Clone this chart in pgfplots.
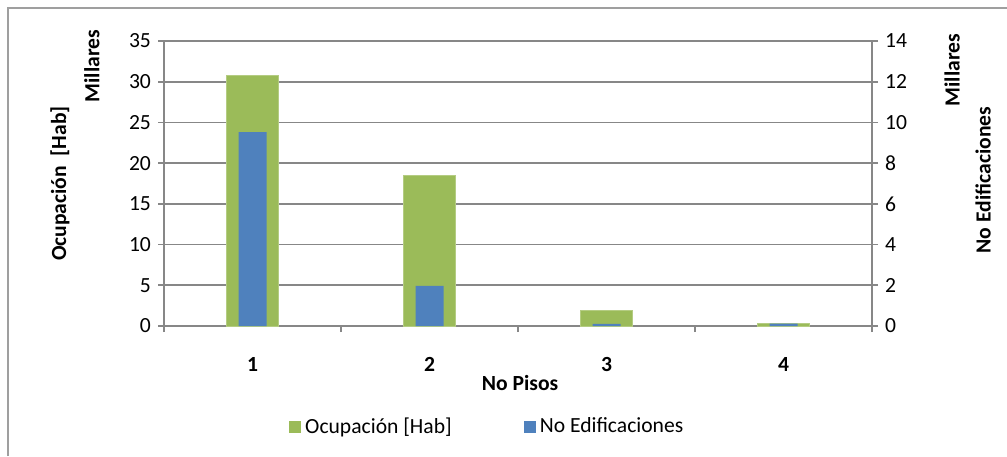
\documentclass[border=0pt]{standalone}
\usepackage{fontspec}
\setmainfont{Carlito}
\usepackage{pgfplots}
\pgfplotsset{compat=1.18}
\definecolor{grn}{HTML}{9BBB59}
\definecolor{blu}{HTML}{4F81BD}
\definecolor{axgray}{HTML}{878787}
\newcommand{\chartfont}{\fontsize{10.8}{12.5}\selectfont}

\begin{document}
\begin{tikzpicture}
\useasboundingbox (0,0) rectangle (503.5pt,228pt);
% chart frame (only left and top edges are visible)
\draw[axgray!80, line width=0.6pt] (4pt,0) -- (4pt,224pt) -- (503.5pt,224pt);

\pgfplotsset{every axis/.append style={
  scale only axis, width=354pt, height=142.5pt,
  at={(82pt,65pt)}, anchor=south west,
  xmin=0.5, xmax=4.5, clip=false,
  font=\chartfont,
  /pgf/number format/assume math mode=true,
  axis line style={axgray, line width=0.8pt},
  tick style={axgray, line width=0.8pt},
  tick align=outside, major tick length=3pt, minor tick length=3pt,
  ybar, bar shift=0pt,
}}

\begin{axis}[
  axis x line*=bottom, axis y line*=left,
  ymin=0, ymax=35, ytick={0,5,...,35},
  ymajorgrids, grid style={axgray, line width=0.8pt},
  xtick={1,2,3,4}, major x tick style={draw=none},
  minor xtick={0.5,1.5,2.5,3.5,4.5},
  xticklabel style={font=\chartfont\bfseries, yshift=-9pt},
  bar width=26pt,
  ylabel={\bfseries Ocupación\ \ [Hab]},
  ylabel style={at={(axis description cs:-0.147,0.5)}, anchor=center},
  xlabel={\bfseries No Pisos},
  xlabel style={at={(axis description cs:0.503,-0.2)}, anchor=center},
  legend style={at={(axis description cs:0.458,-0.354)}, anchor=center,
    draw=none, legend columns=2, font=\chartfont,
    /tikz/column 2/.style={column sep=34pt}},
  legend image code/.code={\path[#1,draw=none] (0pt,-3pt) rectangle (6pt,3pt);},
]
\addplot[fill=grn, draw=grn!75!white] coordinates {(1,30.8) (2,18.5) (3,1.88) (4,0.3)};
\addlegendentry{Ocupación [Hab]}
\addlegendimage{fill=blu}
\addlegendentry{No Edificaciones}
\node[rotate=90, font=\chartfont\bfseries] at (axis description cs:-0.102,0.912) {Millares};
\end{axis}

\begin{axis}[
  axis y line*=right, axis x line=none,
  ymin=0, ymax=14, ytick={0,2,...,14},
  bar width=14pt,
  ylabel={\bfseries No Edificaciones},
  ylabel style={at={(axis description cs:1.157,0.512)}, anchor=center},
]
\addplot[fill=blu, draw=none] coordinates {(1,9.52) (2,1.97) (3,0.11) (4,0.12)};
\node[rotate=90, font=\chartfont\bfseries] at (axis description cs:1.113,0.898) {Millares};
\end{axis}
\end{tikzpicture}
\end{document}
